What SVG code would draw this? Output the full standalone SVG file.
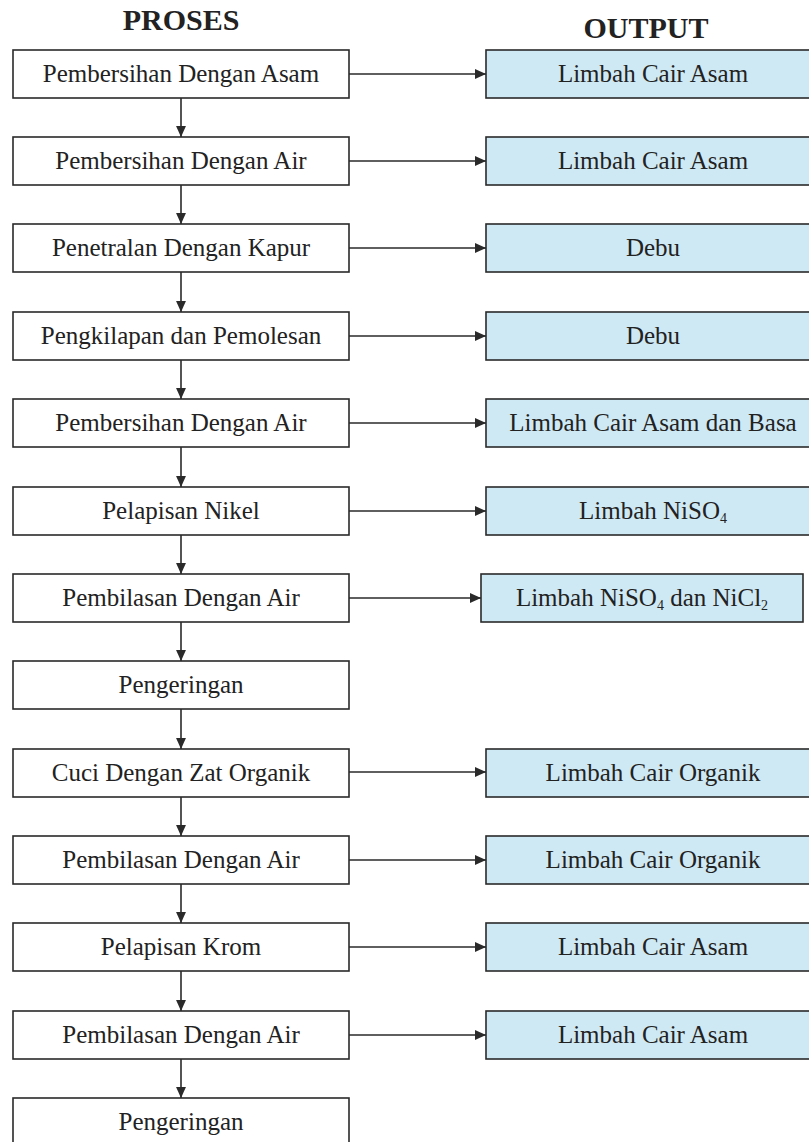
<svg xmlns="http://www.w3.org/2000/svg" width="809" height="1142" viewBox="0 0 809 1142">
<style>
.p{fill:#fff;stroke:#2a2a2a;stroke-width:1.6}
.o{fill:#cfe9f4;stroke:#2a2a2a;stroke-width:1.6}
text{font-family:"Liberation Serif","Times New Roman",serif;fill:#222;text-anchor:middle}
.t{font-size:25px}
.h{font-size:30px;font-weight:bold}
.s{font-size:14px}
.c line{stroke:#2a2a2a;stroke-width:1.6}
</style>
<defs>
<marker id="a" viewBox="0 0 10 10" refX="10" refY="5" markerWidth="11" markerHeight="11" markerUnits="userSpaceOnUse" orient="auto">
<path d="M0,0.5 L10,5 L0,9.5 Z" fill="#2a2a2a"/>
</marker>
</defs>
<text class="h" x="181" y="30">PROSES</text>
<text class="h" x="646" y="38">OUTPUT</text>
<g class="c">
<line x1="181" y1="97" x2="181" y2="137" marker-end="url(#a)"/>
<line x1="181" y1="185" x2="181" y2="224" marker-end="url(#a)"/>
<line x1="181" y1="272" x2="181" y2="312" marker-end="url(#a)"/>
<line x1="181" y1="360" x2="181" y2="399" marker-end="url(#a)"/>
<line x1="181" y1="447" x2="181" y2="487" marker-end="url(#a)"/>
<line x1="181" y1="535" x2="181" y2="574" marker-end="url(#a)"/>
<line x1="181" y1="622" x2="181" y2="661" marker-end="url(#a)"/>
<line x1="181" y1="709" x2="181" y2="749" marker-end="url(#a)"/>
<line x1="181" y1="797" x2="181" y2="836" marker-end="url(#a)"/>
<line x1="181" y1="884" x2="181" y2="923" marker-end="url(#a)"/>
<line x1="181" y1="971" x2="181" y2="1011" marker-end="url(#a)"/>
<line x1="181" y1="1059" x2="181" y2="1098" marker-end="url(#a)"/>
<line x1="349" y1="74" x2="486" y2="74" marker-end="url(#a)"/>
<line x1="349" y1="161" x2="486" y2="161" marker-end="url(#a)"/>
<line x1="349" y1="248" x2="486" y2="248" marker-end="url(#a)"/>
<line x1="349" y1="336" x2="486" y2="336" marker-end="url(#a)"/>
<line x1="349" y1="423" x2="486" y2="423" marker-end="url(#a)"/>
<line x1="349" y1="511" x2="486" y2="511" marker-end="url(#a)"/>
<line x1="349" y1="598" x2="481" y2="598" marker-end="url(#a)"/>
<line x1="349" y1="772" x2="486" y2="772" marker-end="url(#a)"/>
<line x1="349" y1="860" x2="486" y2="860" marker-end="url(#a)"/>
<line x1="349" y1="947" x2="486" y2="947" marker-end="url(#a)"/>
<line x1="349" y1="1035" x2="486" y2="1035" marker-end="url(#a)"/>
</g>
<g id="p1"><rect class="p" x="13" y="50" width="336" height="48"/><text class="t" x="181" y="82">Pembersihan Dengan Asam</text></g>
<g id="p2"><rect class="p" x="13" y="137" width="336" height="48"/><text class="t" x="181" y="169">Pembersihan Dengan Air</text></g>
<g id="p3"><rect class="p" x="13" y="224" width="336" height="48"/><text class="t" x="181" y="256">Penetralan Dengan Kapur</text></g>
<g id="p4"><rect class="p" x="13" y="312" width="336" height="48"/><text class="t" x="181" y="344">Pengkilapan dan Pemolesan</text></g>
<g id="p5"><rect class="p" x="13" y="399" width="336" height="48"/><text class="t" x="181" y="431">Pembersihan Dengan Air</text></g>
<g id="p6"><rect class="p" x="13" y="487" width="336" height="48"/><text class="t" x="181" y="519">Pelapisan Nikel</text></g>
<g id="p7"><rect class="p" x="13" y="574" width="336" height="48"/><text class="t" x="181" y="606">Pembilasan Dengan Air</text></g>
<g id="p8"><rect class="p" x="13" y="661" width="336" height="48"/><text class="t" x="181" y="693">Pengeringan</text></g>
<g id="p9"><rect class="p" x="13" y="749" width="336" height="48"/><text class="t" x="181" y="781">Cuci Dengan Zat Organik</text></g>
<g id="p10"><rect class="p" x="13" y="836" width="336" height="48"/><text class="t" x="181" y="868">Pembilasan Dengan Air</text></g>
<g id="p11"><rect class="p" x="13" y="923" width="336" height="48"/><text class="t" x="181" y="955">Pelapisan Krom</text></g>
<g id="p12"><rect class="p" x="13" y="1011" width="336" height="48"/><text class="t" x="181" y="1043">Pembilasan Dengan Air</text></g>
<g id="p13"><rect class="p" x="13" y="1098" width="336" height="48"/><text class="t" x="181" y="1130">Pengeringan</text></g>
<g id="o1"><rect class="o" x="486" y="50" width="340" height="48"/><text class="t" x="653" y="82">Limbah Cair Asam</text></g>
<g id="o2"><rect class="o" x="486" y="137" width="340" height="48"/><text class="t" x="653" y="169">Limbah Cair Asam</text></g>
<g id="o3"><rect class="o" x="486" y="224" width="340" height="48"/><text class="t" x="653" y="256">Debu</text></g>
<g id="o4"><rect class="o" x="486" y="312" width="340" height="48"/><text class="t" x="653" y="344">Debu</text></g>
<g id="o5"><rect class="o" x="486" y="399" width="340" height="48"/><text class="t" x="653" y="431">Limbah Cair Asam dan Basa</text></g>
<g id="o6"><rect class="o" x="486" y="487" width="340" height="48"/><text class="t" x="653" y="519">Limbah NiSO<tspan class="s" dy="4">4</tspan></text></g>
<g id="o7"><rect class="o" x="481" y="574" width="322" height="48"/><text class="t" x="642" y="606">Limbah NiSO<tspan class="s" dy="4">4</tspan><tspan dy="-4"> dan NiCl</tspan><tspan class="s" dy="4">2</tspan></text></g>
<g id="o9"><rect class="o" x="486" y="749" width="340" height="48"/><text class="t" x="653" y="781">Limbah Cair Organik</text></g>
<g id="o10"><rect class="o" x="486" y="836" width="340" height="48"/><text class="t" x="653" y="868">Limbah Cair Organik</text></g>
<g id="o11"><rect class="o" x="486" y="923" width="340" height="48"/><text class="t" x="653" y="955">Limbah Cair Asam</text></g>
<g id="o12"><rect class="o" x="486" y="1011" width="340" height="48"/><text class="t" x="653" y="1043">Limbah Cair Asam</text></g>
</svg>
